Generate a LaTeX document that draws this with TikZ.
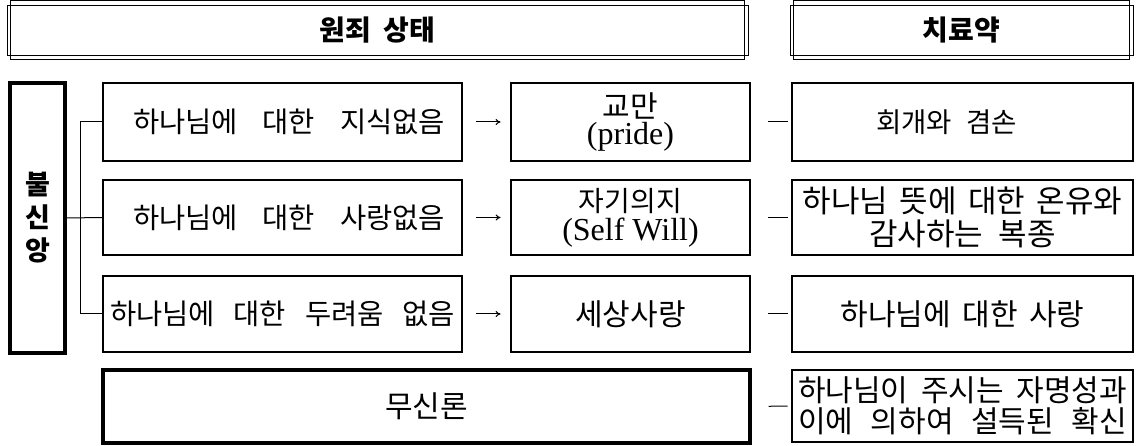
\documentclass[tikz,border=0pt]{standalone}
\usepackage{fontspec}
\usetikzlibrary{arrows.meta}
\newfontfamily\kr{Noto Sans CJK KR}
\newfontfamily\latfam{Liberation Serif}
\newcommand\lat{\latfam\fontsize{32}{24}\selectfont}
\lineskiplimit=-40pt\relax
\tikzset{
  thinbox/.style={draw, line width=1.2pt, inner sep=0pt, align=center,
    font=\kr\fontsize{28.5}{34}\selectfont},
  thickbox/.style={thinbox, line width=2.8pt, font=\kr\fontsize{31}{33}\selectfont},
  headbox/.style={draw, line width=0.9pt, inner sep=0pt, font=\kr\bfseries\fontsize{28}{30}\selectfont},
  link/.style={line width=1pt},
  arr/.style={line width=1pt, -{To[length=5pt,width=6pt]}}
}
\begin{document}
\begin{tikzpicture}[x=1pt,y=-1pt]
\useasboundingbox (0,0) rectangle (1138,446);
% headers
\node[headbox, minimum width=741, minimum height=50] (H1) at (377.5,30) {원죄\hspace{0.45em}상태};
\draw[line width=1.8pt] ([shift={(4,-4)}]H1.north west) rectangle ([shift={(-4,4)}]H1.south east);
\node[headbox, minimum width=343, minimum height=50] (H2) at (961.5,30) {치료약};
\draw[line width=1.8pt] ([shift={(4,-4)}]H2.north west) rectangle ([shift={(-4,4)}]H2.south east);
% left
\node[thickbox, line width=3.5pt, minimum width=55, minimum height=270, font=\kr\bfseries\fontsize{27}{33}\selectfont] (L) at (37.5,218) {불\\신\\앙};
% column 1
\node[thinbox, minimum width=359, minimum height=78] (R1) at (282.5,122) {\hspace*{13pt}\makebox[312pt][s]{하나님에 대한 지식없음}};
\node[thinbox, minimum width=359, minimum height=75] (R2) at (282.5,217.5) {\hspace*{13pt}\makebox[312pt][s]{하나님에 대한 사랑없음}};
\node[thinbox, minimum width=359, minimum height=76] (R3) at (282.5,314) {\makebox[345pt][s]{하나님에 대한 두려움 없음}};
\node[thickbox, line width=3.2pt, minimum width=647, minimum height=73, font=\kr\fontsize{30}{32}\selectfont] (M) at (426.5,406.5) {무신론};
% column 2
\node[thickbox, minimum width=239, minimum height=78, font=\kr\fontsize{30}{27}\selectfont] (P1) at (630.5,122) {교만\\{\lat (pride)}};
\node[thickbox, minimum width=239, minimum height=75, font=\kr\fontsize{28}{29}\selectfont] (P2) at (630.5,217.5) {자기의지\\{\lat (Self Will)}};
\node[thickbox, minimum width=239, minimum height=76, font=\kr\fontsize{30}{32}\selectfont] (P3) at (630.5,314) {세상사랑};
% column 3
\node[thickbox, minimum width=341, minimum height=78, font=\kr\fontsize{27.5}{32}\selectfont] (T1) at (962.5,122) {회개와\hspace{0.5em}겸손\hspace*{32pt}};
\node[thickbox, minimum width=341, minimum height=75] (T2) at (962.5,217.5) {\makebox[320pt][s]{하나님 뜻에 대한 온유와}\\감사하는\hspace{0.5em}복종};
\node[thickbox, minimum width=341, minimum height=76, font=\kr\fontsize{30}{32}\selectfont] (T3) at (962.5,314) {\makebox[244pt][s]{하나님에 대한 사랑}};
\node[thickbox, minimum width=341, minimum height=72, font=\kr\fontsize{30}{31}\selectfont] (T4) at (962.5,406) {\makebox[329pt][s]{하나님이 주시는 자명성과}\\\makebox[329pt][s]{이에 의하여 설득된 확신}};
% bracket
\coordinate (bx) at (80,0);
\draw[link] (R1.west) -- (R1.west -| bx) -- (R3.west -| bx) -- (R3.west);
\draw[link] (L.east) -- (R2.west);
% arrows
\foreach \a/\b in {R1/P1,R2/P2,R3/P3}
  \draw[arr, shorten <=13pt, shorten >=9pt] (\a.east) -- (\b.west);
% dashes
\foreach \a/\b in {P1/T1,P2/T2,P3/T3,M/T4}
  \draw[link, shorten <=17pt, shorten >=3pt] (\a.east) -- (\b.west);
\end{tikzpicture}
\end{document}
